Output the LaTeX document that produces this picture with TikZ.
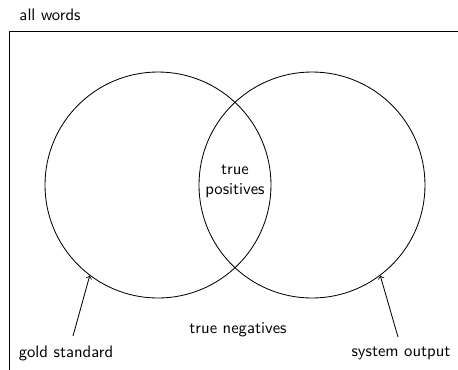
\documentclass[tikz,border=0pt]{standalone}
\begin{document}
\begin{tikzpicture}[x=0.6pt,y=-0.6pt,
  every node/.style={font=\sffamily},
  set/.style={circle,draw,line width=0.5pt,minimum size=135.6pt,inner sep=0pt},
  lab/.style={inner sep=0pt},
  pointer/.style={->,line width=0.5pt}]
\clip (0,0) rectangle (458,369);
\node[lab] (all) at (50,15) {all words};
\draw[line width=0.5pt] (9,31) rectangle (480,400);
\node[set] (gold) at (158,185) {};
\node[set] (sys) at (312,185) {};
\node[lab,align=center] (tp) at (235,181) {true\\positives};
\node[lab] (tn) at (238,330) {true negatives};
\node[lab] (gs) at (66,353) {gold standard};
\node[lab] (so) at (401,353) {system output};
\coordinate (gsa) at (73,336);
\coordinate (soa) at (398,337);
\draw[pointer] (gsa) -- (gold.233.7);
\draw[pointer] (soa) -- (sys.307);
\end{tikzpicture}
\end{document}
